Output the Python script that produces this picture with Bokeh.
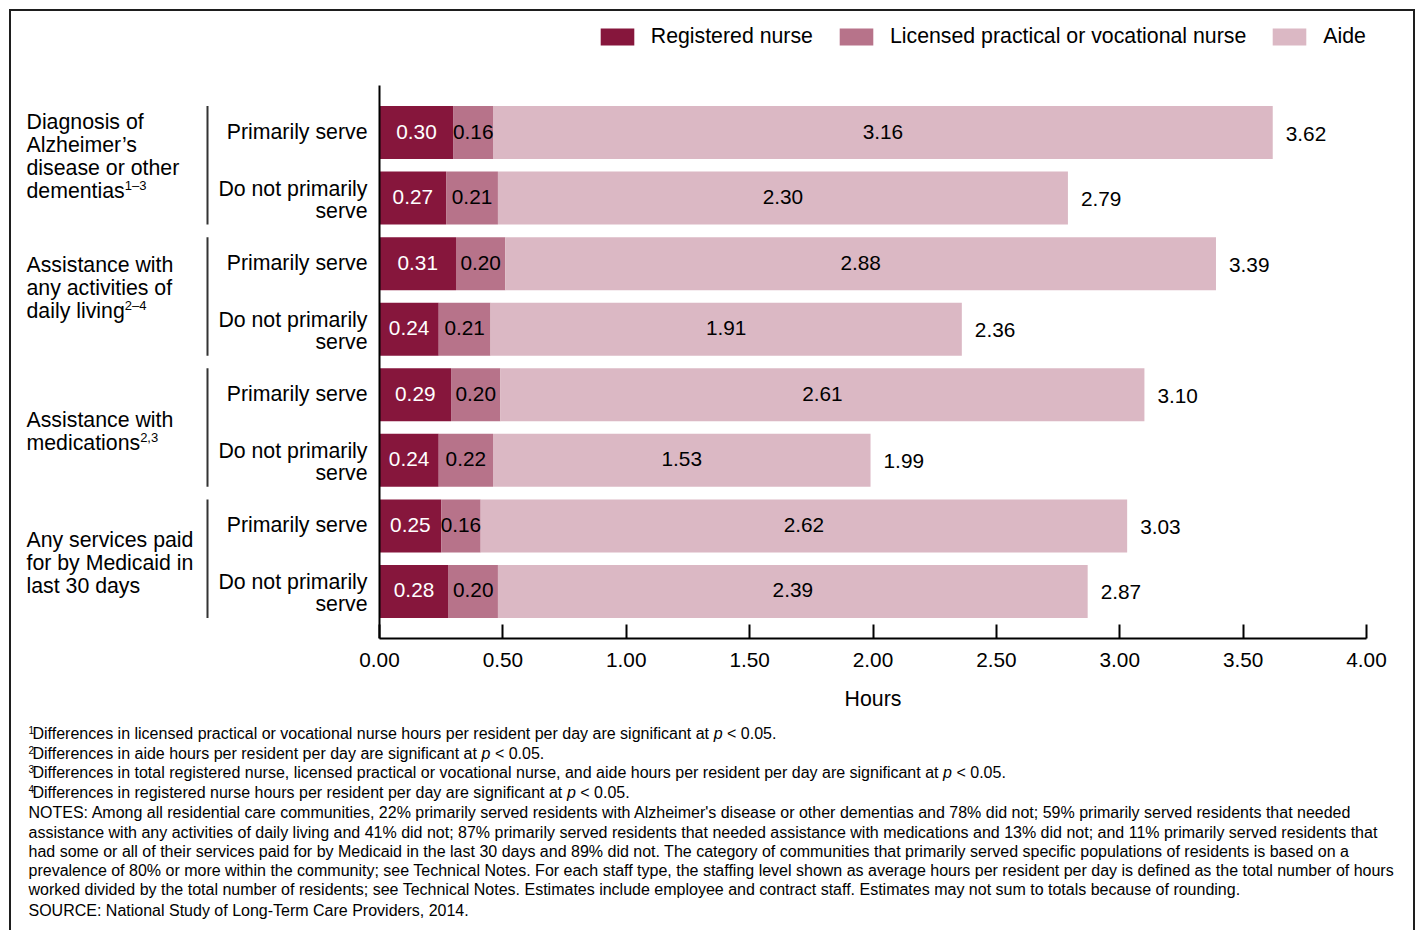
from bokeh.plotting import figure
from bokeh.layouts import column
from bokeh.models import (Range1d, FixedTicker, NumeralTickFormatter, Legend, LegendItem,
                          ColumnDataSource)
from bokeh.core.properties import value
from bokeh.embed import file_html
from bokeh.resources import INLINE

# ---------------- data ----------------
group_lines = [
    ["Diagnosis of", "Alzheimer\u2019s", "disease or other", "dementias"],
    ["Assistance with", "any activities of", "daily living"],
    ["Assistance with", "medications"],
    ["Any services paid", "for by Medicaid in", "last 30 days"],
]
group_sups = ["1\u20133", "2\u20134", "2,3", ""]
subgroups = ["Primarily serve", "Do not primarily serve"]
series = ["Registered nurse", "Licensed practical or vocational nurse", "Aide"]
rn = [0.30, 0.27, 0.31, 0.24, 0.29, 0.24, 0.25, 0.28]
lpn = [0.16, 0.21, 0.20, 0.21, 0.20, 0.22, 0.16, 0.20]
aide = [3.16, 2.30, 2.88, 1.91, 2.61, 1.53, 2.62, 2.39]
total = [3.62, 2.79, 3.39, 2.36, 3.10, 1.99, 3.03, 2.87]
x_ticks = [0.0, 0.5, 1.0, 1.5, 2.0, 2.5, 3.0, 3.5, 4.0]
x_title = "Hours"

sig_notes = [
    ("1", "Differences in licensed practical or vocational nurse hours per resident per day are significant at "),
    ("2", "Differences in aide hours per resident per day are significant at "),
    ("3", "Differences in total registered nurse, licensed practical or vocational nurse, and aide hours per resident per day are significant at "),
    ("4", "Differences in registered nurse hours per resident per day are significant at "),
]
sig_tail = "< 0.05."
notes = [
    "NOTES: Among all residential care communities, 22% primarily served residents with Alzheimer's disease or other dementias and 78% did not; 59% primarily served residents that needed",
    "assistance with any activities of daily living and 41% did not; 87% primarily served residents that needed assistance with medications and 13% did not; and 11% primarily served residents that",
    "had some or all of their services paid for by Medicaid in the last 30 days and 89% did not. The category of communities that primarily served specific populations of residents is based on a",
    "prevalence of 80% or more within the community; see Technical Notes. For each staff type, the staffing level shown as average hours per resident per day is defined as the total number of hours",
    "worked divided by the total number of residents; see Technical Notes. Estimates include employee and contract staff. Estimates may not sum to totals because of rounding.",
]
source_note = "SOURCE: National Study of Long-Term Care Providers, 2014."

# ---------------- style / layout ----------------
FONT = "Liberation Sans"
RN_C, LPN_C, AIDE_C = "#86163C", "#B7738A", "#DBB8C4"
FS = "21.3px"      # category / legend / title text
FV = "20.8px"      # values and tick labels
FN = 16            # footnote font px

OFF = 11           # canvas origin on page (9px margin + 2px border)
W = 1402
H1 = 677
H2 = 919 - H1
FR_L, FR_R = 18, 1400   # frame left/right on page

X0_PX, PX_PER_X = 379.0, 246.75
Y_TOP_BAR_PX, PX_PER_Y = 132.0, 65.57
NB = len(rn)


def xd(px):
    return (px - X0_PX) / PX_PER_X


def yd(py):
    return (NB - 1) - (py - Y_TOP_BAR_PX) / PX_PER_Y


_w = {' ': 278, ',': 278, '.': 278, ';': 278, ':': 278, '-': 333, '%': 889, "'": 191,
      '\u2019': 222, '<': 584, '\u2013': 556, '(': 333, ')': 333}
_w.update(dict(zip("abcdefghijklmnopqrstuvwxyz",
                   [556, 556, 500, 556, 556, 278, 556, 556, 222, 222, 500, 222, 833, 556, 556, 556,
                    556, 333, 500, 278, 556, 500, 722, 500, 500, 500])))
_w.update(dict(zip("ABCDEFGHIJKLMNOPQRSTUVWXYZ",
                   [667, 667, 722, 722, 667, 611, 778, 722, 278, 500, 667, 556, 833, 722, 778, 667,
                    778, 722, 667, 611, 722, 667, 944, 667, 667, 611])))


def tw(s, size):
    return sum(_w.get(c, 556) for c in s) * size / 1000.0


FS_NUM = float(FS[:-2])

xr = Range1d(xd(FR_L), xd(FR_R))
p = figure(width=W, height=H1, output_backend="svg", toolbar_location=None,
           x_range=xr, y_range=Range1d(yd(638), yd(18)),
           y_axis_location=None, min_border_left=FR_L - OFF, min_border_right=OFF + W - FR_R,
           min_border_top=18 - OFF, min_border_bottom=H1 - (638 - OFF))
p.xgrid.visible = False
p.ygrid.visible = False
p.outline_line_color = None
p.background_fill_color = "white"
p.border_fill_color = "white"

# bars
ypos = [NB - 1 - i for i in range(NB)]
rn_end = list(rn)
lpn_end = [a + b for a, b in zip(rn, lpn)]
src = ColumnDataSource(dict(
    y=ypos, rn=rn, lpn=lpn, aide=aide, total=total,
    zero=[0.0] * NB, rn_end=rn_end, lpn_end=lpn_end,
    rn_mid=[v / 2 for v in rn],
    lpn_mid=[a + b / 2 for a, b in zip(rn, lpn)],
    aide_mid=[(a + t) / 2 for a, t in zip(lpn_end, total)],
    rn_lbl=[f"{v:.2f}" for v in rn], lpn_lbl=[f"{v:.2f}" for v in lpn],
    aide_lbl=[f"{v:.2f}" for v in aide], tot_lbl=[f"{v:.2f}" for v in total],
))
BH = 53 / PX_PER_Y
r1 = p.hbar(y="y", left="zero", right="rn_end", height=BH, fill_color=RN_C, line_color=None, source=src)
r2 = p.hbar(y="y", left="rn_end", right="lpn_end", height=BH, fill_color=LPN_C, line_color=None, source=src)
r3 = p.hbar(y="y", left="lpn_end", right="total", height=BH, fill_color=AIDE_C, line_color=None, source=src)

tkw = dict(text_font=value(FONT), text_font_size=FV, text_baseline="middle", source=src)
p.text(x="rn_mid", y="y", text="rn_lbl", text_color="white", text_align="center", y_offset=-1, **tkw)
p.text(x="lpn_mid", y="y", text="lpn_lbl", text_color="black", text_align="center", y_offset=-1, **tkw)
p.text(x="aide_mid", y="y", text="aide_lbl", text_color="black", text_align="center", y_offset=-1, **tkw)
p.text(x="total", y="y", text="tot_lbl", text_color="black", text_align="left", x_offset=13,
       y_offset=1, **tkw)

# y axis line
p.segment(x0=[0], y0=[-0.7168], x1=[0], y1=[NB - 1 + 0.7168], line_color="black", line_width=2)

# sub-group labels
sx, sy, st, so = [], [], [], []
for i in range(NB):
    if i % 2 == 0:
        sx.append(xd(367)); sy.append(ypos[i]); st.append(subgroups[0]); so.append(-1)
    else:
        a, b = subgroups[1].rsplit(" ", 1)
        sx += [xd(367), xd(367)]; sy += [ypos[i], ypos[i]]; st += [a, b]; so += [-9, 13]
p.text(x=sx, y=sy, text=st, y_offset=so, text_align="right", text_baseline="middle",
       text_font=value(FONT), text_font_size=FS, text_color="black")

# group brackets
bx = xd(207)
bx0, by0, bx1, by1 = [], [], [], []
for g in range(len(group_lines)):
    bx0.append(bx); bx1.append(bx)
    by0.append(ypos[2 * g] + BH / 2); by1.append(ypos[2 * g + 1] - BH / 2)
p.segment(x0=bx0, y0=by0, x1=bx1, y1=by1, line_color="#333333", line_width=2)

# group labels
first_line_py = [121, 264, 419, 539]
LG = 23
gx, gy, gt = [], [], []
sup_x, sup_y, sup_t = [], [], []
for g, lines in enumerate(group_lines):
    for k, line in enumerate(lines):
        gx.append(xd(26)); gy.append(yd(first_line_py[g] + LG * k)); gt.append(line)
    if group_sups[g]:
        sup_x.append(xd(26 + tw(lines[-1], FS_NUM)))
        sup_y.append(yd(first_line_py[g] + LG * (len(lines) - 1) - 5))
        sup_t.append(group_sups[g])
p.text(x=gx, y=gy, text=gt, text_align="left", text_baseline="middle",
       text_font=value(FONT), text_font_size=FS, text_color="black")
p.text(x=sup_x, y=sup_y, text=sup_t, text_align="left", text_baseline="middle",
       text_font=value(FONT), text_font_size="13px", text_color="black")

# x axis
ax = p.xaxis[0]
ax.bounds = (x_ticks[0], x_ticks[-1])
ax.ticker = FixedTicker(ticks=x_ticks)
ax.formatter = NumeralTickFormatter(format="0.00")
ax.minor_tick_line_color = None
ax.major_tick_in = 14
ax.major_tick_out = 0
ax.major_tick_line_width = 2
ax.major_tick_line_color = "black"
ax.axis_line_width = 2
ax.axis_line_color = "black"
ax.major_label_text_font = FONT
ax.major_label_text_font_size = FV
ax.major_label_text_color = "black"
ax.major_label_standoff = 14

# legend (location = bottom-left corner relative to frame bottom-left)
GW, GH = 34 / 0.8, 17 / 0.8
legend = Legend(items=[LegendItem(label=series[0], renderers=[r1]),
                       LegendItem(label=series[1], renderers=[r2]),
                       LegendItem(label=series[2], renderers=[r3])],
                orientation="horizontal", location=(600 - 0.1 * GW - FR_L, 638 - 48.5),
                glyph_width=int(round(GW)), glyph_height=int(round(GH)), label_standoff=13,
                spacing=22, padding=0, margin=0, border_line_color=None,
                background_fill_alpha=0, label_text_font=FONT, label_text_font_size=FS,
                label_text_color="black", label_height=25)
p.add_layout(legend, "center")

# ---------------- footnote panel ----------------
top2 = OFF + H1
p2 = figure(width=W, height=H2, output_backend="svg", toolbar_location=None,
            x_range=xr, y_range=Range1d(yd(top2 + H2), yd(top2)),
            x_axis_location=None, y_axis_location=None,
            min_border_left=FR_L - OFF, min_border_right=OFF + W - FR_R,
            min_border_top=0, min_border_bottom=0)
p2.xgrid.visible = False
p2.ygrid.visible = False
p2.outline_line_color = None
p2.background_fill_color = "white"
p2.border_fill_color = "white"

p2.text(x=[(x_ticks[0] + x_ticks[-1]) / 2], y=[yd(698)], text=[x_title], text_align="center",
        text_baseline="middle", text_font=value(FONT), text_font_size=FS, text_color="black")

fn_py = [733, 753, 772, 792]
n_x, n_y, n_t = [], [], []
s_x, s_y, s_t = [], [], []
i_x, i_y = [], []
for (num, txt), py in zip(sig_notes, fn_py):
    s_x.append(xd(28)); s_y.append(yd(py - 4)); s_t.append(num)
    n_x.append(xd(32)); n_y.append(yd(py)); n_t.append(txt.rstrip())
    xp = 32 + tw(txt, FN)
    i_x.append(xd(xp)); i_y.append(yd(py))
    n_x.append(xd(xp + (0.556 + 0.278) * FN)); n_y.append(yd(py)); n_t.append(sig_tail)
notes_py = [812, 832, 851, 870, 889]
for line, py in zip(notes, notes_py):
    n_x.append(xd(28)); n_y.append(yd(py)); n_t.append(line)
n_x.append(xd(28)); n_y.append(yd(910)); n_t.append(source_note)

p2.text(x=n_x, y=n_y, text=n_t, text_align="left", text_baseline="middle",
        text_font=value(FONT), text_font_size=f"{FN}px", text_color="black")
p2.text(x=s_x, y=s_y, text=s_t, text_align="left", text_baseline="middle",
        text_font=value(FONT), text_font_size="10px", text_color="black")
p2.text(x=i_x, y=i_y, text=["p"] * len(i_x), text_align="left", text_baseline="middle",
        text_font=value(FONT), text_font_size=f"{FN}px", text_font_style="italic",
        text_color="black")

layout = column(p, p2, spacing=0,
                styles={"margin-left": "9px", "margin-top": "9px",
                        "border-left": "2px solid #1e1e1e", "border-top": "2px solid #1e1e1e",
                        "border-right": "2px solid #1e1e1e"})

open("out.html", "w").write(file_html(layout, INLINE))
